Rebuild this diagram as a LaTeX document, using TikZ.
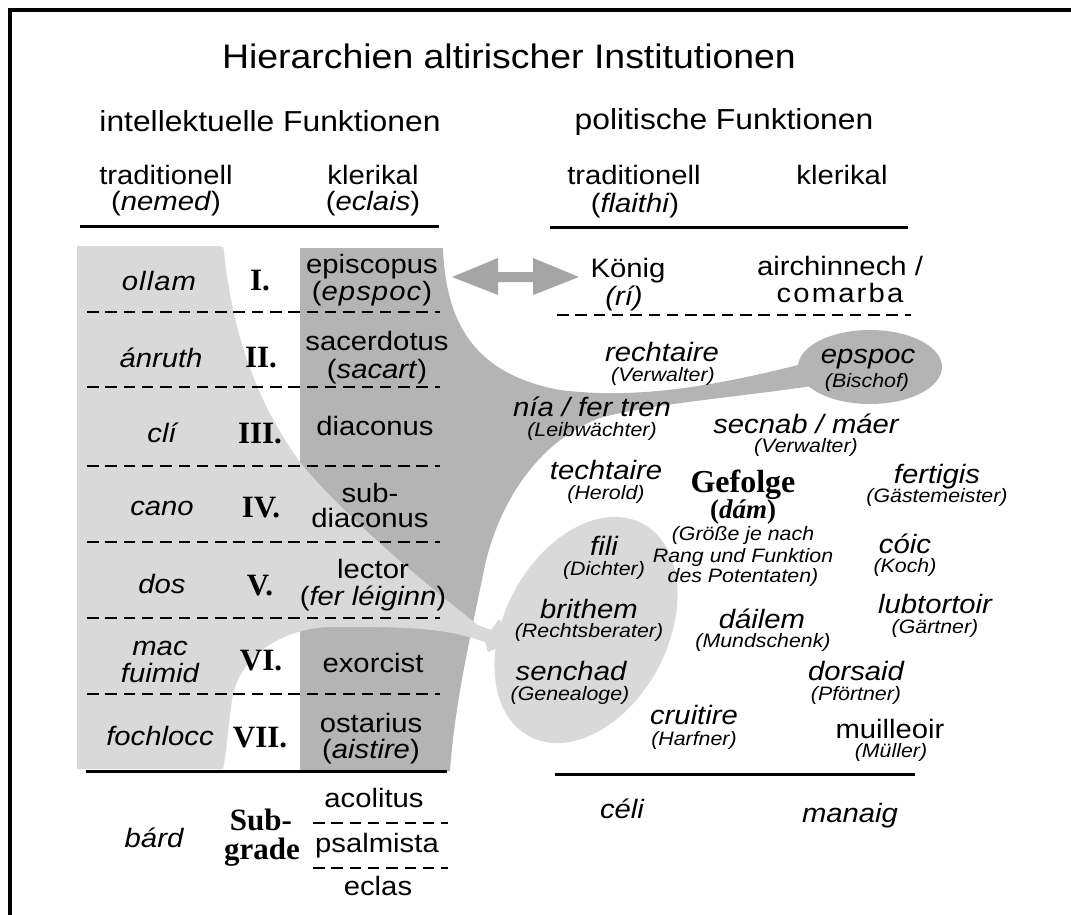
\documentclass[tikz,border=0pt]{standalone}
\usepackage{fontspec}
\setmainfont{Liberation Sans}[FakeStretch=1.1]
\newfontfamily\timesfont{Liberation Serif}
\usetikzlibrary{shapes.geometric}
\definecolor{lightgrey}{RGB}{217,217,217}
\definecolor{darkgrey}{RGB}{180,180,180}
\definecolor{arrowgrey}{RGB}{165,165,165}

\begin{document}
\begin{tikzpicture}[x=1pt,y=-1pt,
  txt/.style={inner sep=0pt, outer sep=0pt, anchor=base, font=\fontsize{26.6}{30}\selectfont},
  itxt/.style={txt, font=\fontsize{26.6}{30}\selectfont\itshape},
  note/.style={txt, font=\fontsize{19.4}{22}\selectfont\itshape},
  head/.style={txt, font=\fontsize{28.9}{32}\selectfont},
  rank/.style={txt, font=\fontsize{31}{33}\selectfont\timesfont\bfseries},
  rule/.style={line width=3pt},
  sep/.style={line width=2.5pt, dash pattern=on 11.5pt off 6.8pt},
  frame/.style={line width=3.5pt},
]
\useasboundingbox (0,0) rectangle (1071,915);

% ---- shaded areas ----
% clerical column with the funnel towards the court and the bishop
\fill[darkgrey] (300,248) -- (443,248)
  .. controls (446,330) and (480,375) .. (560,390)
  .. controls (640,400) and (720,385) .. (810,362)
  -- (812,386)
  .. controls (730,398) and (650,404) .. (600,418)
  .. controls (540,440) and (500,500) .. (485,565)
  .. controls (472,630) and (455,700) .. (450,771)
  -- (300,771) -- cycle;
% traditional column with the band towards the poets
\fill[lightgrey] (77,246) -- (218,246) .. controls (223,246) and (224,248) .. (224,252)
  .. controls (232,330) and (255,400) .. (300,462)
  .. controls (340,512) and (420,580) .. (478,625)
  -- (491,630) -- (499,619) -- (514,641) -- (488,652) -- (485,642)
  .. controls (450,630) and (420,626) .. (330,627)
  .. controls (290,628) and (240,650) .. (232,700)
  .. controls (228,730) and (226,755) .. (223,769)
  -- (77,769) -- cycle;
\node[ellipse, fill=lightgrey, minimum width=241pt, minimum height=163pt,
      inner sep=0pt, rotate=62] (poetoval) at (586,630) {};
\node[ellipse, fill=darkgrey, minimum width=144pt, minimum height=74pt,
      inner sep=0pt] (bishopoval) at (870,367) {};

% double arrow bishop <-> king
\coordinate (arrowL) at (452,277);
\coordinate (arrowR) at (579,277);
\fill[arrowgrey] (arrowL) -- ++(46,-19) -- ++(0,14) -- ++(35,0) -- ++(0,-14)
  -- (arrowR) -- ++(-46,18) -- ++(0,-13) -- ++(-35,0) -- ++(0,13) -- cycle;

% ---- frame ----
\draw[frame] (1071,10) -- (10,10) -- (10,915);

% ---- rules and separators ----
\draw[rule] (80,226) -- (439,226);
\draw[rule] (550,227) -- (908,227);
\foreach \yy in {312,387,466,542,618,694} \draw[sep] (87,\yy) -- (440,\yy);
\draw[rule] (86,771) -- (447,771);
\draw[sep] (313,823) -- (448,823);
\draw[sep] (313,868) -- (448,868);
\draw[sep] (557,315) -- (911,315);
\draw[rule] (555,774) -- (915,774);

% ---- headings ----
\node[txt, font=\fontsize{34}{36}\selectfont] (title) at (509,69) {Hierarchien altirischer Institutionen};
\node[head] (intell) at (270,132) {intellektuelle Funktionen};
\node[head] (polit) at (724,130) {politische Funktionen};
\node[txt] (tradL) at (166,185) {traditionell};
\node[txt] (tradLsub) at (166,210) {(\textit{nemed})};
\node[txt] (klerL) at (373,185) {klerikal};
\node[txt] (klerLsub) at (373,210) {(\textit{eclais})};
\node[txt] (tradR) at (634,185) {traditionell};
\node[txt] (tradRsub) at (635,212) {(\textit{flaithi})};
\node[txt] (klerR) at (842,185) {klerikal};

% ---- grades ----
\node[itxt] (ollam) at (159,290) {\addfontfeature{LetterSpace=4}ollam};
\node[rank] (r1) at (260,290) {I.};
\node[txt] (episcopus) at (372,273) {episcopus};
\node[txt] (episcopusIr) at (372,300) {(\textit{\addfontfeature{LetterSpace=4}epspoc})};

\node[itxt] (anruth) at (161,367) {ánruth};
\node[rank] (r2) at (261,367) {II.};
\node[txt] (sacerdotus) at (377,350) {sacerdotus};
\node[txt] (sacerdotusIr) at (377,378) {(\textit{sacart})};

\node[itxt] (cli) at (162,442) {clí};
\node[rank] (r3) at (260,443) {III.};
\node[txt] (diaconus) at (375,435) {diaconus};

\node[itxt] (cano) at (162,515) {cano};
\node[rank] (r4) at (261,517) {IV.};
\node[txt] (subdiacA) at (370,502) {sub-};
\node[txt] (subdiacB) at (370,527) {diaconus};

\node[itxt] (dos) at (162,593) {dos};
\node[rank] (r5) at (260,595) {V.};
\node[txt] (lector) at (373,578) {lector};
\node[txt] (lectorIr) at (373,605) {(\textit{fer léiginn})};

\node[itxt] (macA) at (160,655) {mac};
\node[itxt] (macB) at (160,682) {fuimid};
\node[rank] (r6) at (261,670) {VI.};
\node[txt] (exorcist) at (373,672) {exorcist};

\node[itxt] (fochlocc) at (160,745) {fochlocc};
\node[rank] (r7) at (260,747) {VII.};
\node[txt] (ostarius) at (371,732) {ostarius};
\node[txt] (ostariusIr) at (371,758) {(\textit{aistire})};

\node[txt] (acolitus) at (374,807) {acolitus};
\node[txt] (psalmista) at (377,852) {psalmista};
\node[txt] (eclas) at (378,895) {eclas};
\node[itxt] (bard) at (154,847) {bárd};
\node[rank] (subA) at (261,830) {Sub-};
\node[rank] (subB) at (262,859) {grade};

% ---- political offices ----
\node[txt] (konig) at (628,277) {König};
\node[itxt] (ri) at (624,305) {(rí)};
\node[txt] (airch) at (840,275) {airchinnech /};
\node[txt] (comarba) at (840,302) {\addfontfeature{LetterSpace=8}comarba};

\node[itxt] (rechtaire) at (662,361) {rechtaire};
\node[note] (rechtaireDe) at (663,381) {(Verwalter)};
\node[itxt] (epspoc) at (868,363) {epspoc};
\node[note] (epspocDe) at (867,387) {(Bischof)};
\node[itxt] (nia) at (592,416) {nía / fer tren};
\node[note] (niaDe) at (592,436) {(Leibwächter)};
\node[itxt] (secnab) at (806,433) {secnab / máer};
\node[note] (secnabDe) at (806,452) {(Verwalter)};
\node[itxt] (techtaire) at (606,479) {techtaire};
\node[note] (techtaireDe) at (606,499) {(Herold)};
\node[txt, font=\fontsize{32}{34}\selectfont\timesfont\bfseries] (gefolge) at (743,492) {Gefolge};
\node[txt, font=\fontsize{27}{30}\selectfont\timesfont\bfseries] (dam) at (743,518) {(\textit{dám})};
\node[note] (sizeA) at (743,540) {(Größe je nach};
\node[note] (sizeB) at (743,562) {Rang und Funktion};
\node[note] (sizeC) at (743,582) {des Potentaten)};
\node[itxt] (fertigis) at (937,483) {fertigis};
\node[note] (fertigisDe) at (937,502) {(Gästemeister)};
\node[itxt] (fili) at (604,555) {fili};
\node[note] (filiDe) at (604,575) {(Dichter)};
\node[itxt] (coic) at (905,553) {cóic};
\node[note] (coicDe) at (905,572) {(Koch)};
\node[itxt] (brithem) at (589,618) {brithem};
\node[note] (brithemDe) at (589,637) {(Rechtsberater)};
\node[itxt] (lubtortoir) at (935,613) {lubtortoir};
\node[note] (lubtortoirDe) at (935,633) {(Gärtner)};
\node[itxt] (dailem) at (762,628) {dáilem};
\node[note] (dailemDe) at (763,647) {(Mundschenk)};
\node[itxt] (senchad) at (571,680) {senchad};
\node[note] (senchadDe) at (570,700) {(Genealoge)};
\node[itxt] (dorsaid) at (856,680) {dorsaid};
\node[note] (dorsaidDe) at (856,700) {(Pförtner)};
\node[itxt] (cruitire) at (694,724) {cruitire};
\node[note] (cruitireDe) at (694,745) {(Harfner)};
\node[txt] (muilleoir) at (890,738) {muilleoir};
\node[note] (muilleoirDe) at (891,757) {(Müller)};
\node[itxt] (celi) at (622,818) {céli};
\node[itxt] (manaig) at (850,822) {manaig};
\end{tikzpicture}
\end{document}
